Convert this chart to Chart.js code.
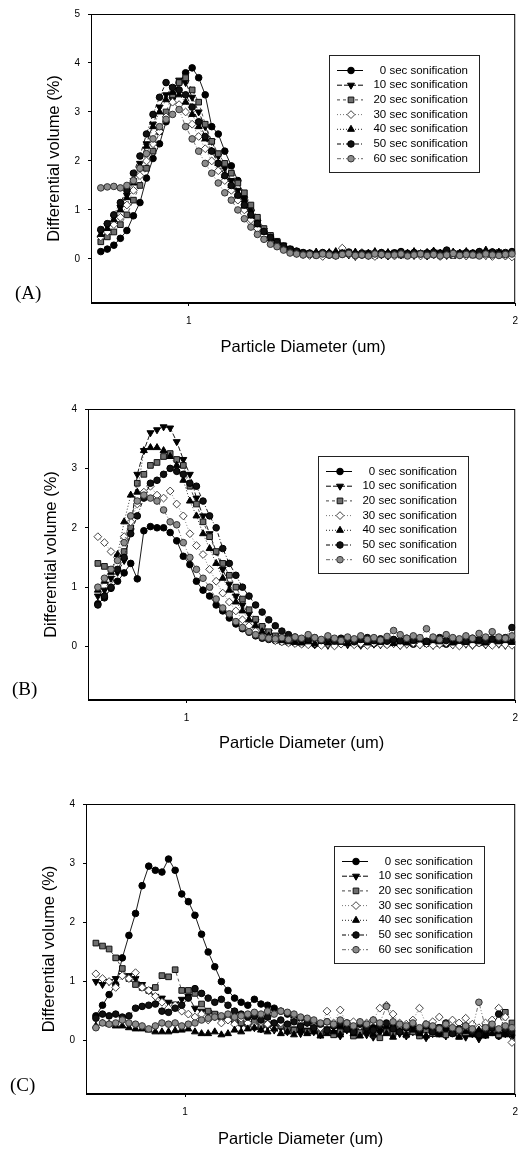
<!doctype html>
<html lang="en">
<head>
<meta charset="utf-8">
<title>Differential volume vs particle diameter</title>
<style>
  * { margin: 0; padding: 0; }
  body { background: #fff; width: 527px; height: 1149px; position: relative; overflow: hidden; }
  canvas { position: absolute; left: 0; }
</style>
</head>
<body>
<canvas id="chartA" width="527" height="380" style="top:0px"></canvas>
<canvas id="chartB" width="527" height="380" style="top:380px"></canvas>
<canvas id="chartC" width="527" height="389" style="top:760px"></canvas>
<script src="https://cdn.jsdelivr.net/npm/chart.js@4.4.0/dist/chart.umd.min.js"></script>
<script>
// particle diameter (um), same bins in every panel
const diameter = [
  0.73,0.75,0.77,0.79,0.81,0.83,0.85,0.87,0.89,0.91,0.93,0.95,0.97,0.99,1.01,1.03,
  1.05,1.07,1.09,1.11,1.13,1.15,1.17,1.19,1.21,1.23,1.25,1.27,1.29,1.31,1.33,1.35,
  1.37,1.39,1.41,1.43,1.45,1.47,1.49,1.51,1.53,1.55,1.57,1.59,1.61,1.63,1.65,1.67,
  1.69,1.71,1.73,1.75,1.77,1.79,1.81,1.83,1.85,1.87,1.89,1.91,1.93,1.95,1.97,1.99
];
const seriesLabels = ['0 sec sonification', '10 sec sonification', '20 sec sonification',
  '30 sec sonification', '40 sec sonification', '50 sec sonification', '60 sec sonification'];
const xTicks = [1, 2];
const yTicksA = [0, 1, 2, 3, 4, 5];
const yTicksBC = [0, 1, 2, 3, 4];

// panel A
const A_0s = [
  0.15,0.20,0.28,0.42,0.58,0.88,1.15,1.65,2.05,2.35,2.80,3.30,3.60,3.80,3.90,3.70,
  3.35,2.70,2.55,2.20,1.90,1.60,1.25,1.00,0.78,0.55,0.45,0.33,0.25,0.18,0.15,0.12,
  0.10,0.09,0.11,0.08,0.10,0.12,0.10,0.09,0.08,0.10,0.11,0.09,0.10,0.12,0.10,0.09,
  0.11,0.10,0.12,0.09,0.10,0.13,0.11,0.10,0.09,0.12,0.10,0.11,0.14,0.10,0.09,0.12];
const A_10s = [
  0.55,0.68,0.85,1.05,1.30,1.60,1.95,2.35,2.75,3.10,3.35,3.50,3.65,3.60,3.30,3.00,
  2.70,2.40,2.10,1.85,1.60,1.40,1.15,0.95,0.75,0.58,0.45,0.35,0.27,0.20,0.15,0.12,
  0.08,0.10,0.06,0.09,0.07,0.10,0.08,0.05,0.09,0.07,0.10,0.08,0.06,0.09,0.08,0.10,
  0.07,0.09,0.06,0.08,0.10,0.07,0.09,0.08,0.06,0.10,0.08,0.07,0.12,0.09,0.06,0.08];
const A_20s = [
  0.35,0.45,0.55,0.70,0.90,1.20,1.50,1.85,2.20,2.60,3.00,3.35,3.60,3.70,3.45,3.20,
  2.75,2.40,2.15,1.95,1.75,1.55,1.35,1.10,0.85,0.62,0.48,0.36,0.27,0.20,0.15,0.12,
  0.10,0.08,0.11,0.09,0.07,0.10,0.12,0.08,0.09,0.11,0.07,0.10,0.09,0.12,0.08,0.10,
  0.09,0.11,0.08,0.10,0.12,0.09,0.07,0.11,0.10,0.08,0.12,0.09,0.10,0.13,0.08,0.10];
const A_30s = [
  0.45,0.55,0.70,0.85,1.10,1.40,1.70,2.00,2.35,2.60,2.90,3.20,3.15,3.00,2.75,2.50,
  2.25,2.00,1.80,1.60,1.40,1.20,1.00,0.80,0.62,0.48,0.36,0.27,0.20,0.15,0.11,0.09,
  0.07,0.10,0.05,0.12,0.08,0.22,0.10,0.06,0.13,0.08,0.05,0.11,0.09,0.06,0.12,0.08,
  0.10,0.06,0.13,0.09,0.05,0.11,0.08,0.12,0.06,0.10,0.13,0.07,0.05,0.10,0.06,0.04];
const A_40s = [
  0.50,0.62,0.80,1.00,1.25,1.55,1.90,2.30,2.70,3.00,3.25,3.40,3.35,3.20,2.95,2.70,
  2.45,2.20,1.95,1.70,1.50,1.30,1.08,0.88,0.70,0.55,0.42,0.32,0.24,0.18,0.14,0.12,
  0.11,0.14,0.10,0.13,0.15,0.11,0.12,0.14,0.10,0.12,0.15,0.11,0.13,0.10,0.14,0.12,
  0.15,0.11,0.13,0.16,0.12,0.10,0.14,0.12,0.15,0.11,0.13,0.18,0.12,0.14,0.10,0.13];
const A_50s = [
  0.60,0.72,0.90,1.15,1.40,1.75,2.10,2.55,2.95,3.30,3.60,3.50,3.45,3.35,3.10,2.80,
  2.50,2.20,1.95,1.70,1.50,1.30,1.10,0.90,0.72,0.56,0.44,0.34,0.26,0.20,0.16,0.13,
  0.12,0.10,0.13,0.11,0.09,0.12,0.14,0.10,0.12,0.09,0.11,0.13,0.10,0.12,0.15,0.11,
  0.13,0.10,0.12,0.14,0.11,0.18,0.12,0.10,0.13,0.11,0.15,0.12,0.14,0.11,0.13,0.15];
const A_60s = [
  1.45,1.47,1.48,1.45,1.50,1.60,1.85,2.15,2.45,2.70,2.85,2.95,3.05,2.70,2.45,2.20,
  1.95,1.75,1.55,1.35,1.20,1.00,0.82,0.65,0.50,0.40,0.30,0.25,0.18,0.12,0.10,0.08,
  0.09,0.07,0.10,0.08,0.06,0.09,0.11,0.07,0.08,0.06,0.10,0.09,0.07,0.08,0.10,0.06,
  0.08,0.10,0.07,0.09,0.06,0.08,0.11,0.07,0.09,0.08,0.06,0.10,0.08,0.07,0.09,0.10];

// panel B
const B_0s = [
  0.72,0.82,0.98,1.10,1.24,1.40,1.14,1.95,2.02,2.00,2.00,1.92,1.78,1.52,1.38,1.10,
  0.95,0.85,0.70,0.60,0.48,0.38,0.30,0.24,0.18,0.14,0.12,0.10,0.08,0.07,0.06,0.05,
  0.06,0.04,0.07,0.05,0.03,0.06,0.08,0.05,0.04,0.07,0.05,0.06,0.04,0.08,0.05,0.06,
  0.04,0.07,0.05,0.06,0.08,0.04,0.06,0.05,0.07,0.04,0.06,0.05,0.08,0.06,0.05,0.07];
const B_10s = [
  0.85,0.95,1.15,1.25,1.45,1.95,2.90,3.30,3.60,3.65,3.70,3.68,3.45,3.15,2.90,2.50,
  2.20,1.90,1.60,1.30,1.05,0.85,0.70,0.55,0.42,0.32,0.24,0.18,0.14,0.10,0.08,0.06,
  0.05,0.03,0.06,0.02,0.04,0.07,0.03,0.05,0.02,0.06,0.04,0.03,0.07,0.05,0.02,0.04,
  0.06,0.03,0.05,0.02,0.04,0.07,0.03,0.05,0.04,0.02,0.06,0.03,0.05,0.04,0.02,0.05];
const B_20s = [
  1.40,1.35,1.30,1.50,1.60,2.00,2.75,2.90,3.05,3.10,3.20,3.25,3.15,3.05,2.70,2.40,
  2.10,1.85,1.60,1.40,1.20,1.00,0.80,0.62,0.46,0.34,0.25,0.18,0.14,0.11,0.09,0.08,
  0.07,0.10,0.06,0.09,0.05,0.08,0.11,0.07,0.09,0.06,0.10,0.08,0.05,0.09,0.07,0.10,
  0.06,0.09,0.07,0.10,0.05,0.08,0.11,0.06,0.09,0.07,0.10,0.08,0.12,0.07,0.09,0.06];
const B_30s = [
  1.85,1.75,1.60,1.50,1.85,2.10,2.40,2.60,2.70,2.55,2.50,2.62,2.40,2.20,1.90,1.70,
  1.55,1.30,1.10,0.90,0.75,0.60,0.45,0.35,0.26,0.19,0.14,0.10,0.08,0.06,0.05,0.04,
  0.03,0.06,0.02,0.05,0.01,0.04,0.07,0.03,0.05,0.02,0.06,0.04,0.03,0.05,0.02,0.04,
  0.06,0.03,0.05,0.02,0.04,0.06,0.03,0.01,0.05,0.03,0.06,0.04,0.02,0.05,0.03,0.02];
const B_40s = [
  0.95,1.10,1.25,1.55,2.10,2.55,2.60,3.30,3.35,3.35,3.30,3.20,3.05,2.80,2.45,2.20,
  1.90,1.65,1.40,1.15,0.95,0.75,0.60,0.45,0.35,0.25,0.18,0.13,0.10,0.08,0.07,0.06,
  0.08,0.05,0.09,0.06,0.10,0.07,0.05,0.08,0.11,0.06,0.09,0.07,0.10,0.05,0.08,0.06,
  0.09,0.12,0.07,0.10,0.08,0.11,0.06,0.09,0.07,0.10,0.08,0.06,0.11,0.08,0.10,0.07];
const B_50s = [
  0.70,0.85,1.00,1.30,1.50,1.90,2.20,2.50,2.75,2.80,2.90,3.00,2.95,2.90,2.75,2.70,
  2.45,2.20,2.00,1.65,1.40,1.20,1.00,0.85,0.70,0.58,0.45,0.35,0.26,0.20,0.16,0.13,
  0.12,0.15,0.10,0.13,0.09,0.14,0.11,0.08,0.12,0.15,0.10,0.13,0.09,0.12,0.10,0.14,
  0.11,0.13,0.09,0.12,0.15,0.10,0.13,0.11,0.09,0.14,0.12,0.10,0.13,0.11,0.15,0.32];
const B_60s = [
  1.00,1.15,1.30,1.45,1.75,2.20,2.45,2.55,2.50,2.45,2.30,2.10,2.05,1.75,1.50,1.30,
  1.15,1.00,0.80,0.65,0.55,0.42,0.32,0.25,0.20,0.16,0.14,0.13,0.15,0.12,0.16,0.14,
  0.20,0.15,0.12,0.18,0.14,0.10,0.16,0.13,0.18,0.12,0.15,0.11,0.17,0.27,0.20,0.14,
  0.18,0.15,0.30,0.16,0.12,0.20,0.15,0.13,0.18,0.14,0.22,0.16,0.25,0.16,0.14,0.18];

// panel C
const C_0s = [
  0.42,0.60,0.78,0.95,1.40,1.78,2.15,2.62,2.95,2.88,2.85,3.07,2.88,2.48,2.35,2.12,
  1.80,1.50,1.25,1.00,0.85,0.72,0.65,0.60,0.70,0.62,0.60,0.55,0.50,0.45,0.40,0.38,
  0.35,0.30,0.28,0.32,0.25,0.22,0.30,0.20,0.25,0.18,0.22,0.28,0.20,0.25,0.18,0.22,
  0.20,0.15,0.22,0.18,0.12,0.20,0.15,0.10,0.18,0.12,0.16,0.10,0.14,0.08,0.12,0.10];
const C_10s = [
  1.00,0.95,1.00,1.05,1.10,1.10,1.05,0.95,0.85,0.75,0.72,0.65,0.62,0.70,0.75,0.55,
  0.50,0.48,0.45,0.40,0.35,0.30,0.28,0.25,0.22,0.20,0.25,0.18,0.22,0.15,0.20,0.12,
  0.18,0.15,0.10,0.20,0.14,0.08,0.18,0.12,0.15,0.10,0.06,0.14,0.18,0.10,0.12,0.08,
  0.15,0.10,0.05,0.12,0.18,0.08,0.14,0.10,0.06,0.12,0.03,0.10,0.15,0.08,0.12,0.06];
const C_20s = [
  1.65,1.60,1.55,1.40,1.22,1.05,0.95,0.90,0.85,0.90,1.10,1.08,1.20,0.85,0.85,0.80,
  0.62,0.50,0.45,0.40,0.38,0.35,0.30,0.28,0.32,0.25,0.28,0.22,0.25,0.20,0.18,0.22,
  0.15,0.20,0.12,0.18,0.10,0.15,0.20,0.08,0.14,0.18,0.10,0.05,0.15,0.12,0.20,0.10,
  0.15,0.08,0.18,0.12,0.22,0.10,0.15,0.08,0.20,0.12,0.18,0.25,0.15,0.10,0.48,0.30];
const C_30s = [
  1.13,1.05,1.00,0.90,1.10,1.05,1.15,0.90,0.85,0.75,0.65,0.55,0.60,0.50,0.45,0.40,
  0.45,0.35,0.40,0.30,0.35,0.28,0.38,0.30,0.25,0.32,0.28,0.22,0.30,0.25,0.35,0.28,
  0.30,0.25,0.22,0.50,0.30,0.52,0.28,0.32,0.25,0.30,0.35,0.55,0.60,0.45,0.30,0.28,
  0.35,0.55,0.28,0.32,0.40,0.25,0.35,0.30,0.38,0.28,0.22,0.30,0.35,0.55,0.40,-0.03];
const C_40s = [
  0.25,0.30,0.28,0.25,0.25,0.22,0.20,0.20,0.18,0.15,0.15,0.15,0.17,0.18,0.20,0.15,
  0.12,0.12,0.15,0.10,0.12,0.18,0.15,0.20,0.22,0.18,0.15,0.20,0.12,0.15,0.10,0.18,
  0.12,0.15,0.08,0.12,0.15,0.10,0.18,0.12,0.08,0.15,0.10,0.20,0.12,0.06,0.15,0.10,
  0.18,0.12,0.08,0.15,0.10,0.22,0.12,0.06,0.15,0.10,0.18,0.08,0.12,0.15,0.10,0.20];
const C_50s = [
  0.38,0.45,0.42,0.45,0.40,0.42,0.55,0.58,0.60,0.62,0.50,0.48,0.55,0.60,0.72,0.88,
  0.80,0.72,0.65,0.70,0.60,0.50,0.45,0.40,0.42,0.35,0.40,0.30,0.35,0.28,0.32,0.25,
  0.30,0.22,0.28,0.18,0.25,0.30,0.20,0.15,0.28,0.22,0.18,0.25,0.30,0.20,0.15,0.22,
  0.28,0.18,0.25,0.15,0.22,0.30,0.12,0.20,0.25,0.15,0.10,0.18,0.22,0.45,0.20,0.15];
const C_60s = [
  0.22,0.30,0.28,0.30,0.35,0.30,0.28,0.25,0.20,0.25,0.30,0.28,0.30,0.25,0.28,0.30,
  0.35,0.38,0.40,0.42,0.45,0.40,0.42,0.45,0.48,0.45,0.50,0.45,0.50,0.48,0.45,0.40,
  0.38,0.35,0.30,0.32,0.28,0.35,0.30,0.25,0.32,0.28,0.35,0.30,0.58,0.32,0.28,0.25,
  0.30,0.22,0.28,0.25,0.20,0.28,0.22,0.18,0.25,0.20,0.65,0.22,0.28,0.20,0.25,0.22];

const sans = "'Liberation Sans', Arial, sans-serif";
Chart.defaults.font.family = sans;
Chart.defaults.color = '#000';

// line + marker look for each sonification time
const looks = [
  { line: '#000', dash: [],              shape: 'circle',   rot: 0,   fill: '#000',    edge: '#000', r: 3.3 },
  { line: '#000', dash: [5, 2],          shape: 'triangle', rot: 180, fill: '#000',    edge: '#000', r: 4 },
  { line: '#444', dash: [3, 3],          shape: 'rect',     rot: 0,   fill: '#6e6e6e', edge: '#111', r: 4 },
  { line: '#777', dash: [1, 2],          shape: 'rectRot',  rot: 0,   fill: '#fff',    edge: '#444', r: 3.9 },
  { line: '#222', dash: [1, 2],          shape: 'triangle', rot: 0,   fill: '#000',    edge: '#000', r: 4 },
  { line: '#000', dash: [4, 2, 1, 2],    shape: 'circle',   rot: 0,   fill: '#111',    edge: '#000', r: 3.3 },
  { line: '#666', dash: [4, 2, 1, 2, 1, 2], shape: 'circle', rot: 0,  fill: '#8c8c8c', edge: '#333', r: 3.3 }
];

// box round the plot and the panel letter
const frame = {
  id: 'frame',
  beforeDatasetsDraw(chart, args, opts) {
    const { ctx, chartArea: { top, bottom, left, right } } = chart;
    ctx.save();
    ctx.strokeStyle = '#000';
    ctx.lineWidth = 1;
    ctx.strokeRect(left + 0.5, top + 0.5, right - left - 1, bottom - top - 1);
    ctx.font = '19px "Liberation Serif", "Times New Roman", serif';
    ctx.fillStyle = '#000';
    ctx.textAlign = 'left';
    ctx.textBaseline = 'middle';
    ctx.fillText(opts.letter, opts.lx, opts.ly);
    ctx.restore();
  }
};

// legend drawn as a box inside the plot
const boxLegend = {
  id: 'boxLegend',
  afterDatasetsDraw(chart, args, opts) {
    const { ctx } = chart;
    const left = opts.left, top = opts.top, w = 150, h = 117;
    ctx.save();
    ctx.fillStyle = '#fff';
    ctx.fillRect(left, top, w, h);
    ctx.strokeStyle = '#222';
    ctx.lineWidth = 1;
    ctx.strokeRect(left + 0.5, top + 0.5, w, h);
    ctx.font = '11.5px ' + sans;
    ctx.textAlign = 'right';
    ctx.textBaseline = 'middle';
    chart.data.datasets.forEach((ds, k) => {
      const y = top + 15.5 + k * 14.7;
      ctx.strokeStyle = ds.borderColor;
      ctx.lineWidth = 1;
      ctx.setLineDash(ds.borderDash);
      ctx.beginPath();
      ctx.moveTo(left + 8, y);
      ctx.lineTo(left + 34, y);
      ctx.stroke();
      ctx.setLineDash([]);
      ctx.fillStyle = ds.pointBackgroundColor;
      ctx.strokeStyle = ds.pointBorderColor;
      ctx.lineWidth = 1;
      Chart.helpers.drawPoint(ctx, { pointStyle: ds.pointStyle, radius: ds.pointRadius, rotation: ds.pointRotation, borderWidth: 1 }, left + 22, y);
      ctx.fillStyle = '#000';
      ctx.fillText(ds.label, left + w - 11, y);
    });
    ctx.restore();
  }
};

function buildPanel(id, series, yMax, yTicks, g) {
  const datasets = series.map((vals, k) => ({
    label: seriesLabels[k],
    data: diameter.map((d, i) => ({ x: d, y: vals[i] })),
    borderColor: looks[k].line,
    borderWidth: 0.9,
    borderDash: looks[k].dash,
    pointStyle: looks[k].shape,
    pointRotation: looks[k].rot,
    pointRadius: looks[k].r,
    pointBackgroundColor: looks[k].fill,
    pointBorderColor: looks[k].edge,
    pointBorderWidth: 1,
    tension: 0,
    order: 6 - k
  }));

  return new Chart(document.getElementById(id), {
    type: 'line',
    data: { datasets },
    options: {
      responsive: false,
      animation: false,
      events: [],
      layout: { padding: { left: 0, right: g.padRight, top: g.padTop, bottom: 0 } },
      scales: {
        x: {
          type: 'linear',
          min: 0.7,
          max: 2,
          afterBuildTicks: (ax) => { ax.ticks = xTicks.map(v => ({ value: v })); },
          afterFit: (ax) => { ax.height = g.xHeight; },
          ticks: { font: { size: 10 }, color: '#000', padding: 9, maxRotation: 0 },
          grid: { drawOnChartArea: false, drawTicks: true, tickLength: 3, color: '#000' },
          border: { display: true, color: '#000', width: 1 },
          title: { display: true, text: 'Particle Diameter (um)', font: { size: 16.5 }, color: '#000', padding: { top: 0, bottom: g.xTitlePad } }
        },
        y: {
          type: 'linear',
          min: -0.9,
          max: yMax,
          afterBuildTicks: (ax) => { ax.ticks = yTicks.map(v => ({ value: v })); },
          afterFit: (ax) => { ax.width = g.yWidth; },
          ticks: { font: { size: 10 }, color: '#000', padding: 8 },
          grid: { drawOnChartArea: false, drawTicks: true, tickLength: 3, color: '#000' },
          border: { display: true, color: '#000', width: 1 },
          title: { display: true, text: 'Differential volume (%)', font: { size: 16.5 }, color: '#000', padding: { top: g.yTitlePad, bottom: 0 } }
        }
      },
      plugins: {
        legend: { display: false },
        tooltip: { enabled: false },
        frame: { letter: g.letter, lx: g.lx, ly: g.ly },
        boxLegend: { left: g.legLeft, top: g.legTop }
      }
    },
    plugins: [frame, boxLegend]
  });
}

buildPanel('chartA', [A_0s, A_10s, A_20s, A_30s, A_40s, A_50s, A_60s], 5, yTicksA,
  { padRight: 6, padTop: 13, xHeight: 77, yWidth: 91, xTitlePad: 23, yTitlePad: 45,
    letter: '(A)', lx: 15, ly: 294, legLeft: 329, legTop: 55 });
buildPanel('chartB', [B_0s, B_10s, B_20s, B_30s, B_40s, B_50s, B_60s], 4, yTicksBC,
  { padRight: 10, padTop: 29, xHeight: 60, yWidth: 88, xTitlePad: 7, yTitlePad: 42,
    letter: '(B)', lx: 12, ly: 310, legLeft: 318, legTop: 76 });
buildPanel('chartC', [C_0s, C_10s, C_20s, C_30s, C_40s, C_50s, C_60s], 4, yTicksBC,
  { padRight: 11, padTop: 44, xHeight: 55, yWidth: 86, xTitlePad: 0, yTitlePad: 39.6,
    letter: '(C)', lx: 10, ly: 326, legLeft: 334, legTop: 86 });
</script>
</body>
</html>
